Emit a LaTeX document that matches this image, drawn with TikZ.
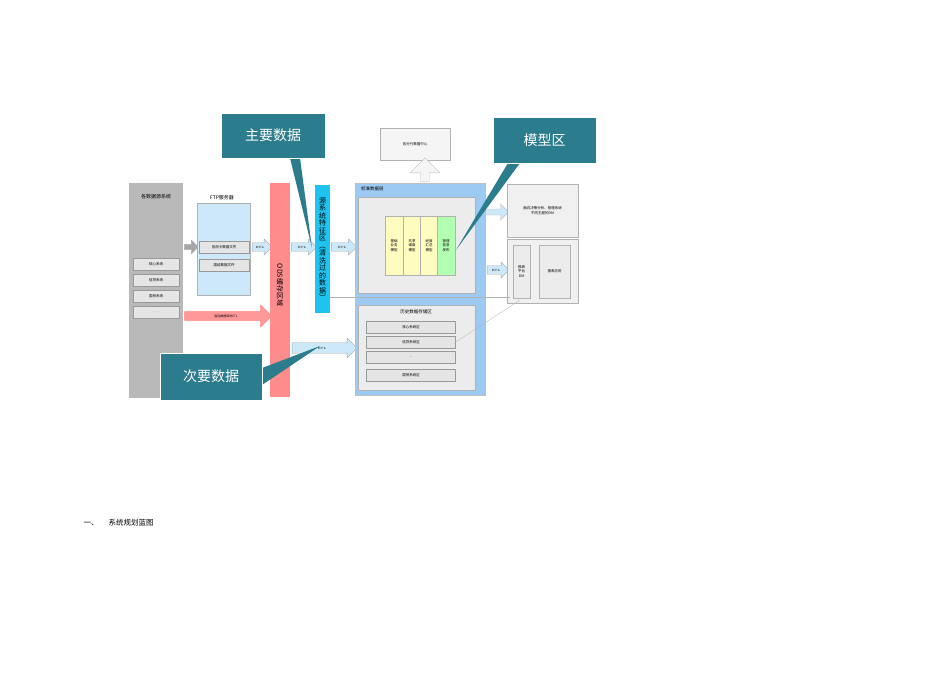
\documentclass[tikz,border=0pt]{standalone}
\usepackage{fontspec}
\newfontfamily\cjk{Noto Sans CJK SC}
\usetikzlibrary{shapes.arrows}
\definecolor{teal1}{HTML}{2B7C8C}
\definecolor{ltblue}{HTML}{CDE8F8}
\definecolor{midblue}{HTML}{9CCAF2}
\definecolor{cyanbar}{HTML}{1FC3EF}
\tikzset{
 lbl/.style={font=\cjk\fontsize{3.5}{4.5}\selectfont,align=center,inner sep=0},
 item/.style={draw=gray!80,fill=gray!20,lbl},
 etl/.style={single arrow,draw=gray!70,fill=ltblue,single arrow head extend=2pt,minimum height=#1,minimum width=16,inner sep=1pt,font=\fontsize{3}{3}\selectfont},
 call/.style={fill=teal1,draw=white,text=white,font=\cjk\fontsize{14}{14}\selectfont},
 thin/.style={draw=gray!60,line width=0.3pt}
}
\begin{document}
\begin{tikzpicture}[x=1pt,y=-1pt]
\useasboundingbox (0,0) rectangle (950,672);
% source
\fill[gray!55] (129,183) rectangle (183,398);
\node[lbl,font=\cjk\fontsize{5}{5}\selectfont] (srct) at (156,197) {各数据源系统};
\node[item,minimum width=46,minimum height=12] (s1) at (156,264) {核心系统};
\node[item,minimum width=46,minimum height=12] (s2) at (156,280) {信贷系统};
\node[item,minimum width=46,minimum height=12] (s3) at (156,296) {国贸系统};
\node[item,minimum width=46,minimum height=12] (s4) at (156,312) {. . .};
\node[single arrow,draw=gray!60,fill=gray!70,minimum height=14,minimum width=14,inner sep=1pt,single arrow head extend=2pt] (ga) at (190,247) {};
% FTP
\draw[fill=ltblue,draw=gray!60] (197,203) rectangle (250,295);
\node[lbl,font=\fontsize{5}{5}\selectfont\cjk] (ftpt) at (222,198) {FTP服务器};
\node[item,minimum width=50,minimum height=12] (f1) at (224,247) {信用卡数据文件};
\node[item,minimum width=50,minimum height=12] (f2) at (224,265) {国结数据文件};
\node[etl=20] (e1) at (260,247) {ETL};
% red arrow
\node[single arrow,draw=red!50,fill=red!40,minimum height=87,minimum width=22,inner sep=1pt,single arrow head extend=4pt,font=\cjk\fontsize{3}{3}\selectfont] (ra) at (226,316) {直连数据库的ETL};
% ODS
\fill[red!45] (270,183) rectangle (290,397);
\node[lbl,font=\cjk\fontsize{7}{7}\selectfont,rotate=-90] (ods) at (280,285) {ODS缓存区域};
\node[etl=25] (e2) at (302,247) {ETL};
% cyan
\fill[cyanbar] (315,185) rectangle (330,313);
\node[lbl,font=\cjk\fontsize{7}{7.5}\selectfont,align=center] (cy) at (322.5,249) {源\\系\\统\\特\\征\\区\\︵\\清\\洗\\过\\的\\数\\据\\︶};
\node[etl=25] (e3) at (342,247) {ETL};
\node[etl=65,minimum width=20] (e4) at (322,348) {ETL};
% standard layer
\draw[fill=midblue,draw=gray!50] (355,183) rectangle (485,395);
\node[lbl,font=\cjk\fontsize{4.5}{4.5}\selectfont,anchor=west] (stdt) at (361,189) {标准数据层};
\draw[fill=gray!15,draw=gray!60] (358,197) rectangle (475,293);
\foreach \x/\t/\c in {385/基础\\业务\\模型/yellow!25, 403/共享\\维度\\模型/yellow!25, 420/经度\\汇总\\模型/yellow!25, 437/管理\\信息\\发布/green!30}
 \draw[fill=\c,draw=gray!60] (\x,216) rectangle ++(18,59) node[midway,lbl] {\t};
\coordinate (mgmt) at (456,250);
\draw[fill=gray!15,draw=gray!60] (358,305) rectangle (475,390);
\node[lbl,font=\cjk\fontsize{4.5}{4.5}\selectfont] (ht) at (416,312) {历史数据存储区};
\node[item,minimum width=89,minimum height=12] (h1) at (411,327) {核心系统区};
\node[item,minimum width=89,minimum height=12] (h2) at (411,342) {信贷系统区};
\node[item,minimum width=89,minimum height=12] (h3) at (411,357) {...};
\node[item,minimum width=89,minimum height=12] (h4) at (411,375) {国贸系统区};
% top
\node[draw=gray!60,fill=gray!8,minimum width=70,minimum height=32,lbl] (bank) at (415,144) {各分行数据中心};
\node[single arrow,shape border rotate=90,draw=gray!50,fill=gray!8,minimum height=24,minimum width=30,inner sep=1pt,single arrow head extend=3pt] (ua) at (425,172) {};
% right
\node[single arrow,draw=gray!50,fill=ltblue,minimum height=22,minimum width=16,inner sep=1pt,single arrow head extend=2pt] (ra2) at (496,212) {};
\node[draw=gray!60,fill=gray!12,minimum width=71,minimum height=53,lbl] (dm) at (542.5,210.5) {面向决策分析、管理系统\\不同主题的DM};
\node[etl=22] (e5) at (496,270) {ETL};
\draw[fill=gray!12,draw=gray!60] (507,239) rectangle (578,303);
\draw[fill=gray!15,draw=gray!60] (513,245) rectangle (530,298) node[midway,lbl] (rp) {报表\\平台\\DM};
\draw[fill=gray!15,draw=gray!60] (539,245) rectangle (570,298) node[midway,lbl] (ry) {报表应用};
% thin lines
\draw[thin] (330,297) -- (510,297);
\draw[thin] (h2.east) -- (520,300);
% callouts
\fill[teal1] (312,248) -- (300,158) -- (290,158) -- cycle;
\node[call,minimum width=104,minimum height=45] (c1) at (273,135.5) {主要数据};
\fill[teal1] (mgmt) -- (520,163) -- (508,163) -- cycle;
\node[call,minimum width=103,minimum height=46] (c2) at (544.5,140) {模型区};
\fill[teal1] (320,346) -- (262,368) -- (262,385) -- cycle;
\node[call,minimum width=102,minimum height=47] (c3) at (211,376.5) {次要数据};
\node[anchor=west,font=\cjk\fontsize{7.5}{7.5}\selectfont] (cap) at (80,523) {一、\hspace{10pt}系统规划蓝图};
\end{tikzpicture}
\end{document}
